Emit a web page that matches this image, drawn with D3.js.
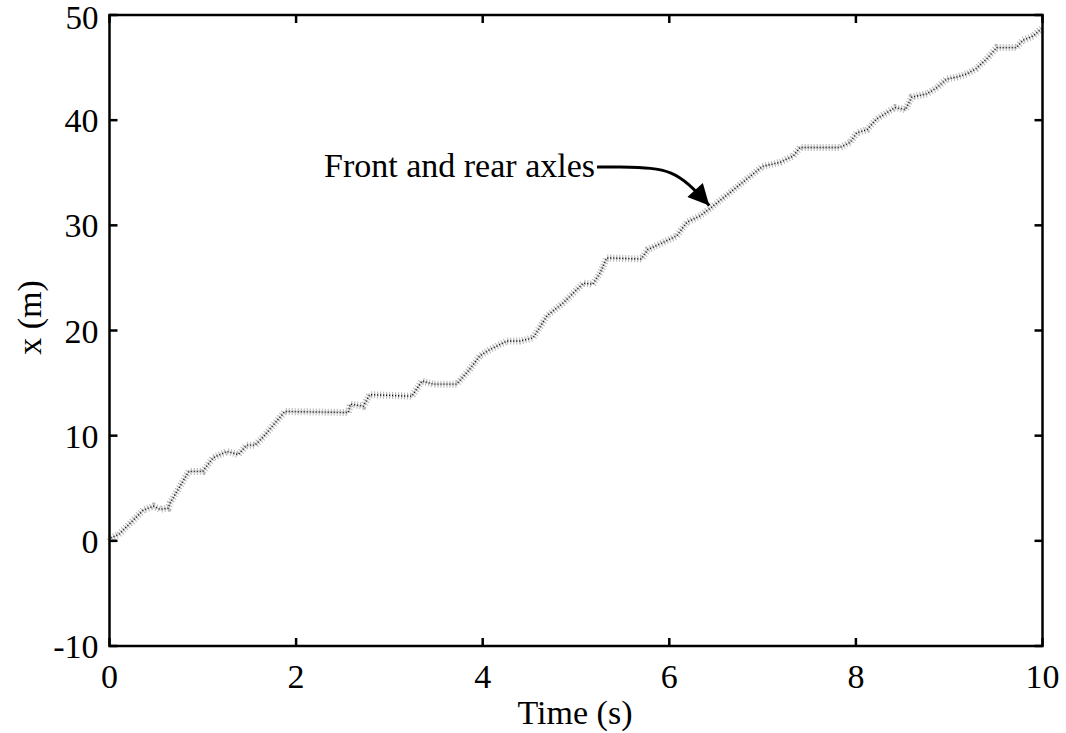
<!DOCTYPE html>
<html>
<head>
<meta charset="utf-8">
<script src="https://cdnjs.cloudflare.com/ajax/libs/d3/7.8.5/d3.min.js"></script>
<style>
  body { margin: 0; background: #fff; }
  svg text { font-family: "Liberation Serif", "Times New Roman", serif; fill: #000; }
</style>
</head>
<body>
<div id="chart"></div>
<script>
// values (time in s, position in m)
var timeS = [0, 0.02, 0.10, 0.36, 0.47, 0.54, 0.63, 0.65, 0.85, 1.00, 1.11, 1.26, 1.38, 1.47, 1.56, 1.65,
  1.88, 2.56, 2.58, 2.72, 2.79, 3.24, 3.35, 3.47, 3.72, 3.86, 3.97, 4.08, 4.26, 4.40, 4.54, 4.69, 4.86,
  5.08, 5.18, 5.26, 5.33, 5.70, 5.77, 5.94, 6.08, 6.19, 6.33, 6.45, 6.69, 6.83, 7.00, 7.19, 7.33, 7.40,
  7.83, 7.94, 8.01, 8.12, 8.22, 8.33, 8.42, 8.53, 8.60, 8.76, 8.87, 8.97, 9.08, 9.19, 9.29, 9.40, 9.51,
  9.72, 9.79, 9.90, 9.99];
var posM = [0, 0.3, 0.6, 2.9, 3.3, 3.0, 3.1, 3.6, 6.6, 6.6, 7.9, 8.5, 8.2, 9.1, 9.1, 9.9,
  12.3, 12.2, 13.0, 12.8, 13.9, 13.75, 15.2, 14.9, 14.9, 16.3, 17.6, 18.2, 19.0, 19.0, 19.3, 21.4, 22.6,
  24.5, 24.4, 25.5, 26.9, 26.8, 27.7, 28.4, 29.0, 30.3, 30.9, 31.7, 33.4, 34.4, 35.6, 36.0, 36.6, 37.4,
  37.4, 37.9, 38.8, 39.1, 40.1, 40.7, 41.2, 41.0, 42.2, 42.5, 43.1, 43.9, 44.1, 44.4, 44.9, 45.8, 46.9,
  46.9, 47.6, 48.0, 48.7];
var xTicks = [0, 2, 4, 6, 8, 10];
var yTicks = [-10, 0, 10, 20, 30, 40, 50];
var noteText = "Front and rear axles";
var notePoint = [6.45, 31.7];

var W = 1066, H = 733;
var m = { left: 109.5, top: 15, right: 1066 - 1042.5, bottom: 733 - 646 };
var iw = W - m.left - m.right, ih = H - m.top - m.bottom;
var fs = 34;

var svg = d3.select("#chart").append("svg").attr("width", W).attr("height", H);
var g = svg.append("g").attr("transform", "translate(" + m.left + "," + m.top + ")");

var x = d3.scaleLinear().domain([0, 10]).range([0, iw]);
var y = d3.scaleLinear().domain([-10, 50]).range([ih, 0]);

var data = timeS.map(function(t, i){ return [t, posM[i]]; });
var line = d3.line().x(function(d){ return x(d[0]); }).y(function(d){ return y(d[1]); });

// rear axle trace: grey crosses look
g.append("path").datum(data).attr("d", line)
  .attr("fill", "none").attr("stroke", "#b4b4b4").attr("stroke-width", 7)
  .attr("stroke-dasharray", "1,2");
g.append("path").datum(data).attr("d", line)
  .attr("fill", "none").attr("stroke", "#c8c8c8").attr("stroke-width", 3)
  .attr("stroke-dasharray", "2,1");
// front axle trace: black dots
g.append("path").datum(data).attr("d", line)
  .attr("fill", "none").attr("stroke", "#111").attr("stroke-width", 1.4)
  .attr("stroke-dasharray", "1,2");

// axes: ticks inside on all four sides
var tl = 8;
var ax = g.append("g");
ax.selectAll(".xb").data(xTicks).enter().append("line")
  .attr("x1", function(d){ return x(d); }).attr("x2", function(d){ return x(d); })
  .attr("y1", ih).attr("y2", ih - tl);
ax.selectAll(".xt").data(xTicks).enter().append("line")
  .attr("x1", function(d){ return x(d); }).attr("x2", function(d){ return x(d); })
  .attr("y1", 0).attr("y2", tl);
ax.selectAll(".yl").data(yTicks).enter().append("line")
  .attr("y1", function(d){ return y(d); }).attr("y2", function(d){ return y(d); })
  .attr("x1", 0).attr("x2", tl);
ax.selectAll(".yr").data(yTicks).enter().append("line")
  .attr("y1", function(d){ return y(d); }).attr("y2", function(d){ return y(d); })
  .attr("x1", iw).attr("x2", iw - tl);
ax.selectAll("line").attr("stroke", "#000").attr("stroke-width", 2.5);
ax.append("rect").attr("width", iw).attr("height", ih)
  .attr("fill", "none").attr("stroke", "#000").attr("stroke-width", 2.5);

g.selectAll(".xl").data(xTicks).enter().append("text")
  .attr("x", function(d){ return x(d); }).attr("y", ih + 42)
  .attr("text-anchor", "middle").attr("font-size", fs).text(function(d){ return d; });
g.selectAll(".ylb").data(yTicks).enter().append("text")
  .attr("x", -11).attr("y", function(d){ return y(d) + 12; })
  .attr("text-anchor", "end").attr("font-size", function(d){ return d === 50 ? 33 : fs; })
  .attr("dy", function(d){ return d === 50 ? 2 : 0; })
  .text(function(d){ return d; });

svg.append("text").attr("x", m.left + iw / 2 - 1).attr("y", 724)
  .attr("text-anchor", "middle").attr("font-size", fs).text("Time (s)");
svg.append("text").attr("transform", "translate(41," + (m.top + ih / 2 - 13) + ") rotate(-90)")
  .attr("text-anchor", "middle").attr("font-size", fs).text("x (m)");

// annotation with curved arrow
var tx = 595 - m.left, ty = 177 - m.top;
g.append("text").attr("x", tx).attr("y", ty).attr("text-anchor", "end")
  .attr("font-size", fs).text(noteText);
var px = x(notePoint[0]), py = y(notePoint[1]);
svg.append("defs").append("marker").attr("id", "ah")
  .attr("viewBox", "0 0 10 10").attr("refX", 10).attr("refY", 5)
  .attr("markerWidth", 32).attr("markerHeight", 21).attr("markerUnits", "userSpaceOnUse")
  .attr("orient", "auto")
  .append("path").attr("d", "M0,0L10,5L0,10Z").attr("fill", "#000");
g.append("path")
  .attr("d", "M" + (tx + 2) + "," + (ty - 10) + " L" + (tx + 25) + "," + (ty - 10) +
    " C" + (tx + 75) + "," + (ty - 9) + " " + (px - 35) + "," + (py - 38) + " " + (px - 2) + "," + (py - 2))
  .attr("fill", "none").attr("stroke", "#000").attr("stroke-width", 3)
  .attr("marker-end", "url(#ah)");
</script>
</body>
</html>
